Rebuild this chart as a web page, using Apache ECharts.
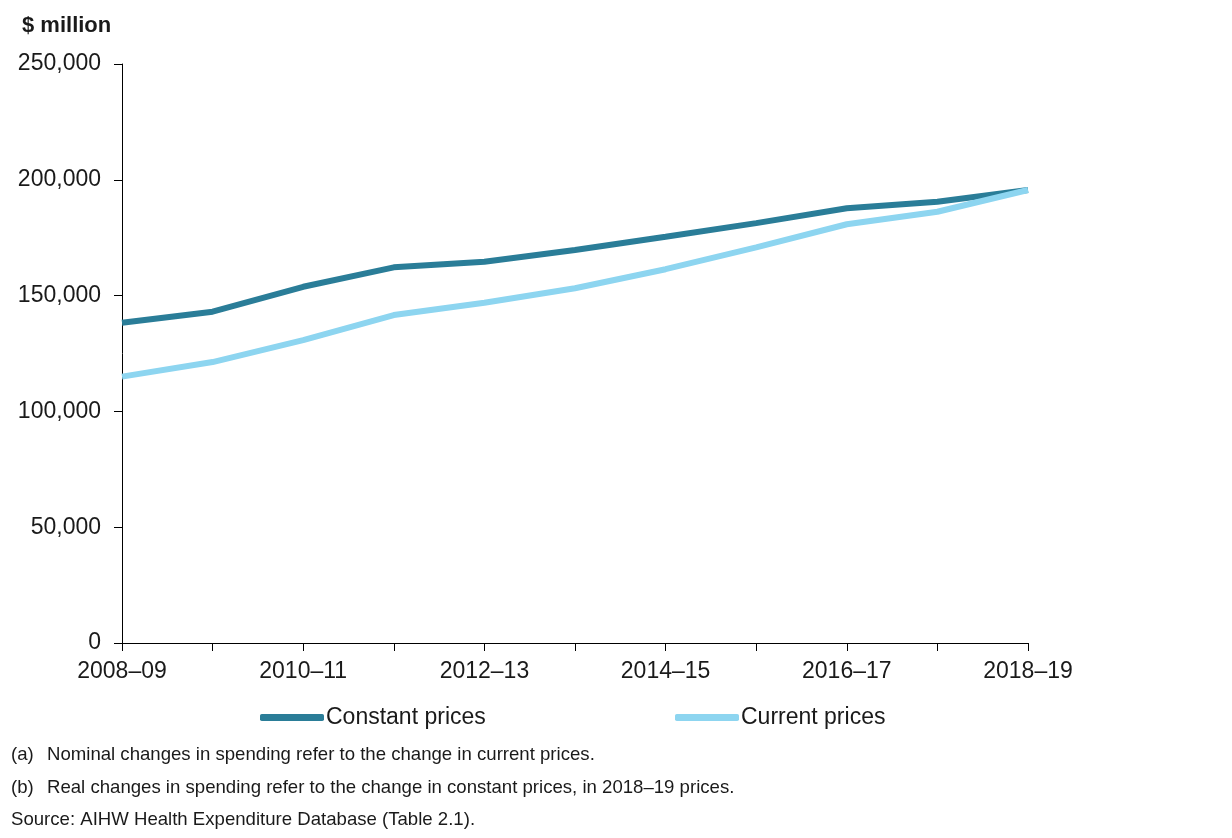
<!DOCTYPE html>
<html>
<head>
<meta charset="utf-8">
<script src="https://cdn.jsdelivr.net/npm/echarts@6/dist/echarts.min.js"></script>
<style>
  html, body { margin: 0; padding: 0; background: #fff; }
  #chart { width: 1232px; height: 838px; }
</style>
</head>
<body>
<div id="chart"></div>
<script>
const categories = ['2008–09','2009–10','2010–11','2011–12','2012–13','2013–14','2014–15','2015–16','2016–17','2017–18','2018–19'];
const constantPrices = [138300, 143050, 153800, 162200, 164600, 169700, 175400, 181300, 187700, 190500, 195600];
const currentPrices = [115000, 121300, 130800, 141600, 146900, 153200, 161400, 170800, 180800, 186200, 195600];
const yTicks = [0, 50000, 100000, 150000, 200000, 250000];
const noteLabels = ['(a)', '(b)'];
const noteTexts = [
  'Nominal changes in spending refer to the change in current prices.',
  'Real changes in spending refer to the change in constant prices, in 2018–19 prices.'
];
const sourceText = 'Source: AIHW Health Expenditure Database (Table 2.1).';

const chart = echarts.init(document.getElementById('chart'));
const txt = '#1a1a1a';
const font = 'Arial, "Liberation Sans", sans-serif';

function t(text, x, y) {
  return {
    type: 'text', x: x, y: y,
    style: { text: text, font: '18.6px ' + font, fill: txt, textVerticalAlign: 'middle' }
  };
}

chart.setOption({
  animation: false,
  backgroundColor: '#fff',
  grid: { left: 122, right: 204, top: 64, bottom: 195, containLabel: false },
  graphic: [
    { type: 'text', left: 22, top: 15, style: { text: '$ million', font: 'bold 22px ' + font, fill: txt } },
    t(noteLabels[0], 11, 755), t(noteTexts[0], 47, 755),
    t(noteLabels[1], 11, 788), t(noteTexts[1], 47, 788),
    t(sourceText, 11, 820)
  ],
  legend: [
    {
      data: ['Constant prices'], left: 255, top: 701, itemWidth: 64, itemHeight: 7,
      icon: 'roundRect', itemGap: 0,
      textStyle: { fontSize: 23, fontFamily: font, color: txt, padding: [0, 0, 0, -3] }
    },
    {
      data: ['Current prices'], left: 670, top: 701, itemWidth: 64, itemHeight: 7,
      icon: 'roundRect', itemGap: 0,
      textStyle: { fontSize: 23, fontFamily: font, color: txt, padding: [0, 0, 0, -3] }
    }
  ],
  xAxis: {
    type: 'category', data: categories, boundaryGap: false,
    axisLine: { lineStyle: { color: '#000', width: 1 } },
    axisTick: { show: true, length: 8, interval: 0, lineStyle: { color: '#000' } },
    axisLabel: {
      interval: 1, margin: 17, fontSize: 23, fontFamily: font, color: txt
    },
    splitLine: { show: false }
  },
  yAxis: {
    type: 'value', min: yTicks[0], max: yTicks[yTicks.length - 1], interval: 50000,
    axisLine: { show: true, lineStyle: { color: '#000', width: 1 } },
    axisTick: { show: true, length: 8, lineStyle: { color: '#000' } },
    axisLabel: {
      margin: 21, fontSize: 23, fontFamily: font, color: txt,
      padding: [8, 0, 0, 0],
      formatter: v => v.toLocaleString('en-US')
    },
    splitLine: { show: false }
  },
  series: [
    {
      name: 'Constant prices', type: 'line', data: constantPrices,
      symbol: 'none', color: '#2a7d98',
      lineStyle: { width: 6, color: '#2a7d98' }, z: 3
    },
    {
      name: 'Current prices', type: 'line', data: currentPrices,
      symbol: 'none', color: '#8dd5f0',
      lineStyle: { width: 6, color: '#8dd5f0' }, z: 4
    }
  ]
});
</script>
</body>
</html>
